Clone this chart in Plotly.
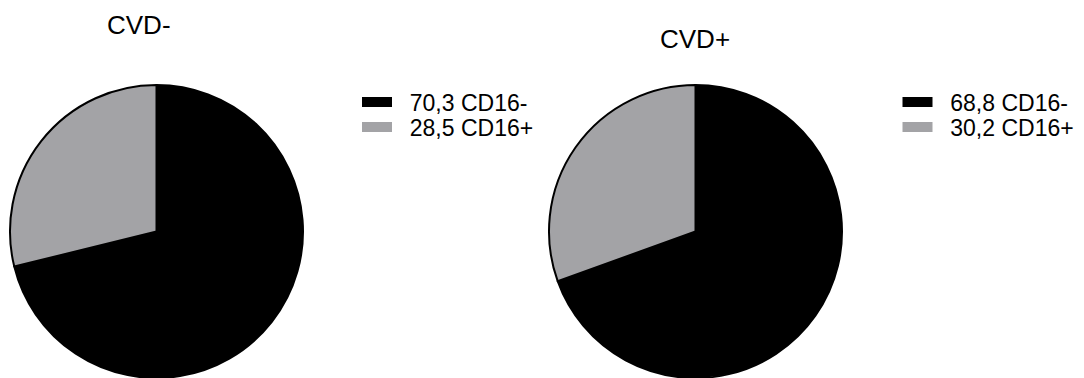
import plotly.graph_objects as go

# CD16 subset percentages per cohort
groups = ["CVD-", "CVD+"]
subsets = ["CD16-", "CD16+"]
cvd_neg = [70.3, 28.5]
cvd_pos = [68.8, 30.2]
slice_colors = ["#000000", "#a3a3a6"]

W, H = 1084, 378
FONT = "Arial, Liberation Sans, sans-serif"


def fmt(v):
    return f"{v:.1f}".replace(".", ",")


# pie placement (paper fractions)
pie_domains = [
    dict(x=[9.5 / W, 303.5 / W], y=[0, 293 / H]),
    dict(x=[548.5 / W, 842.5 / W], y=[0, 293 / H]),
]
# title positions (paper fractions)
title_pos = [(139 / W, 1 - 25 / H), (694.5 / W, 1 - 39 / H)]
# legend left edges and row centres (paper fractions)
legend_x = [357 / W, 897.5 / W]
legend_rows = [1 - 102 / H, 1 - 127 / H]

fig = go.Figure()
annotations = []
legends = {}
leg_idx = 0

for g, (name, values) in enumerate(zip(groups, [cvd_neg, cvd_pos])):
    fig.add_trace(go.Pie(
        labels=subsets,
        values=values,
        sort=False,
        direction="clockwise",
        rotation=0,
        textinfo="none",
        hoverinfo="label+value",
        showlegend=False,
        marker=dict(colors=slice_colors, line=dict(color="#000000", width=2)),
        domain=pie_domains[g],
    ))
    annotations.append(dict(
        text=name, x=title_pos[g][0], y=title_pos[g][1],
        xref="paper", yref="paper", xanchor="center", yanchor="middle",
        showarrow=False, font=dict(size=26, color="#000000", family=FONT),
    ))
    # one legend entry per slice, stacked beside the pie
    for s, (sub, val) in enumerate(zip(subsets, values)):
        leg_idx += 1
        key = "legend" if leg_idx == 1 else f"legend{leg_idx}"
        fig.add_trace(go.Scatter(
            x=[None], y=[None], mode="lines",
            line=dict(color=slice_colors[s], width=11),
            name="\u00a0\u00a0" + fmt(val) + " " + sub,
            legend=key, hoverinfo="skip",
        ))
        legends[key] = dict(
            x=legend_x[g], y=legend_rows[s], xanchor="left", yanchor="middle",
            bgcolor="rgba(0,0,0,0)", borderwidth=0,
            font=dict(size=23, color="#000000", family=FONT),
            itemclick=False, itemdoubleclick=False,
        )

fig.update_layout(
    width=W, height=H,
    margin=dict(l=0, r=0, t=0, b=0),
    template="none",
    paper_bgcolor="#ffffff",
    plot_bgcolor="rgba(0,0,0,0)",
    xaxis=dict(visible=False),
    yaxis=dict(visible=False),
    annotations=annotations,
    **legends,
)

fig.write_html("out.html")
